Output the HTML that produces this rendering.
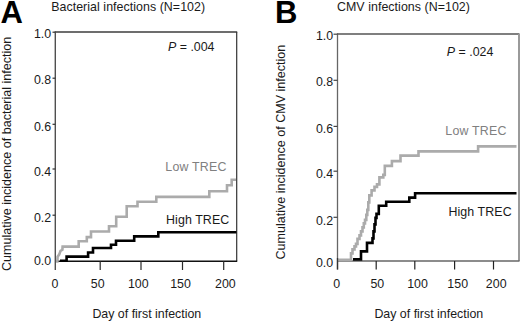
<!DOCTYPE html>
<html><head><meta charset="utf-8"><style>
html,body{margin:0;padding:0;background:#fff;width:520px;height:322px;overflow:hidden}
svg{display:block}
text{font-family:"Liberation Sans",sans-serif;}
</style></head><body>
<svg width="520" height="322" viewBox="0 0 520 322">
<rect width="520" height="322" fill="#fff"/>
<path d="M 54.8 32 H 237.2" fill="none" stroke="#3c3c3c" stroke-width="1.5"/>
<path d="M 236.7 32 V 261.3" fill="none" stroke="#333" stroke-width="1.2"/>
<path d="M 55.3 261.3 H 237.2" fill="none" stroke="#111" stroke-width="1.4"/>
<path d="M 55.3 31.5 V 270" fill="none" stroke="#505050" stroke-width="1.4"/>
<path d="M 52.5 32.2 H 55.3" stroke="#333" stroke-width="1.2"/>
<path d="M 52.5 78.2 H 55.3" stroke="#333" stroke-width="1.2"/>
<path d="M 52.5 124.3 H 55.3" stroke="#333" stroke-width="1.2"/>
<path d="M 52.5 169.0 H 55.3" stroke="#333" stroke-width="1.2"/>
<path d="M 52.5 215.2 H 55.3" stroke="#333" stroke-width="1.2"/>
<path d="M 100.2 261.3 V 270" stroke="#2a2a2a" stroke-width="1.2"/>
<path d="M 141 261.3 V 270" stroke="#2a2a2a" stroke-width="1.2"/>
<path d="M 182.5 261.3 V 270" stroke="#2a2a2a" stroke-width="1.2"/>
<path d="M 223.7 261.3 V 270" stroke="#2a2a2a" stroke-width="1.2"/>
<text x="51.2" y="37.5" font-size="12.4" text-anchor="end" fill="#1a1a1a">1.0</text>
<text x="51.2" y="83.9" font-size="12.4" text-anchor="end" fill="#1a1a1a">0.8</text>
<text x="51.2" y="130.5" font-size="12.4" text-anchor="end" fill="#1a1a1a">0.6</text>
<text x="51.2" y="175.8" font-size="12.4" text-anchor="end" fill="#1a1a1a">0.4</text>
<text x="51.2" y="222.1" font-size="12.4" text-anchor="end" fill="#1a1a1a">0.2</text>
<text x="51.2" y="264.7" font-size="12.4" text-anchor="end" fill="#1a1a1a">0.0</text>
<text transform="translate(10.9,153.85) rotate(-90)" font-size="12.55" text-anchor="middle" fill="#1a1a1a">Cumulative incidence of bacterial infection</text>
<text x="51.2" y="11.0" font-size="12.4" fill="#1a1a1a" letter-spacing="0.05">Bacterial infections (N=102)</text>
<text x="0.6" y="23.1" font-size="31" font-weight="bold" fill="#000">A</text>
<text x="55" y="288.2" font-size="12.4" text-anchor="middle" fill="#1a1a1a">0</text>
<text x="97.7" y="288.2" font-size="12.4" text-anchor="middle" fill="#1a1a1a">50</text>
<text x="138.3" y="288.2" font-size="12.4" text-anchor="middle" fill="#1a1a1a">100</text>
<text x="180.5" y="288.2" font-size="12.4" text-anchor="middle" fill="#1a1a1a">150</text>
<text x="225.4" y="288.2" font-size="12.4" text-anchor="middle" fill="#1a1a1a">200</text>
<text x="146.8" y="317.8" font-size="12.4" text-anchor="middle" fill="#1a1a1a">Day of first infection</text>
<path d="M 337.0 34 H 519.5" fill="none" stroke="#555" stroke-width="1.3"/>
<path d="M 519.0 34 V 261" fill="none" stroke="#9a9a9a" stroke-width="2.0"/>
<path d="M 337.5 261 H 519.5" fill="none" stroke="#666" stroke-width="1.3"/>
<path d="M 337.5 33.5 V 269.5" fill="none" stroke="#666" stroke-width="1.3"/>
<path d="M 333.5 34.2 H 337.5" stroke="#444" stroke-width="1.2"/>
<path d="M 333.5 80.3 H 337.5" stroke="#444" stroke-width="1.2"/>
<path d="M 333.5 126.4 H 337.5" stroke="#444" stroke-width="1.2"/>
<path d="M 333.5 171.2 H 337.5" stroke="#444" stroke-width="1.2"/>
<path d="M 333.5 217.3 H 337.5" stroke="#444" stroke-width="1.2"/>
<path d="M 376.2 261 V 269.5" stroke="#222" stroke-width="1.2"/>
<path d="M 414.8 261 V 269.5" stroke="#222" stroke-width="1.2"/>
<path d="M 454.6 261 V 269.5" stroke="#222" stroke-width="1.2"/>
<path d="M 493.5 261 V 269.5" stroke="#222" stroke-width="1.2"/>
<text x="333.2" y="39.9" font-size="12.4" text-anchor="end" fill="#1a1a1a">1.0</text>
<text x="333.2" y="86.1" font-size="12.4" text-anchor="end" fill="#1a1a1a">0.8</text>
<text x="333.2" y="132.7" font-size="12.4" text-anchor="end" fill="#1a1a1a">0.6</text>
<text x="333.2" y="178.3" font-size="12.4" text-anchor="end" fill="#1a1a1a">0.4</text>
<text x="333.2" y="224.6" font-size="12.4" text-anchor="end" fill="#1a1a1a">0.2</text>
<text x="333.2" y="266.9" font-size="12.4" text-anchor="end" fill="#1a1a1a">0.0</text>
<text transform="translate(284.6,152.1) rotate(-90)" font-size="12.55" text-anchor="middle" fill="#1a1a1a">Cumulative incidence of CMV infection</text>
<text x="337" y="11.0" font-size="12.4" fill="#1a1a1a" letter-spacing="0.05">CMV infections (N=102)</text>
<text x="275.0" y="23.1" font-size="31" font-weight="bold" fill="#000">B</text>
<text x="336.7" y="288.2" font-size="12.4" text-anchor="middle" fill="#1a1a1a">0</text>
<text x="377.3" y="288.2" font-size="12.4" text-anchor="middle" fill="#1a1a1a">50</text>
<text x="417.5" y="288.2" font-size="12.4" text-anchor="middle" fill="#1a1a1a">100</text>
<text x="457.7" y="288.2" font-size="12.4" text-anchor="middle" fill="#1a1a1a">150</text>
<text x="496.2" y="288.2" font-size="12.4" text-anchor="middle" fill="#1a1a1a">200</text>
<text x="428.8" y="317.8" font-size="12.4" text-anchor="middle" fill="#1a1a1a">Day of first infection</text>
<path d="M 57.3 262.8 L 57.6 256.8 L 59.3 254.3 L 60.5 250.8 L 62.4 249.8 L 62.6 246.6 H 78.7 V 241.3 H 86.8 V 237.1 H 91 V 231.5 H 109 V 226.3 H 116.2 V 216.8 H 126.7 V 206.3 H 137.5 V 201.8 H 156.3 V 196.9 H 209.3 V 191.3 H 227 V 185.3 H 231.7 V 179.8 H 236" fill="none" stroke="#ababab" stroke-width="2.6" stroke-linejoin="miter"/>
<path d="M 60 260.8 H 66.6 V 256.6 H 88.1 V 252.5 H 93 V 248 H 111 V 244.8 H 116 V 240.7 H 134.2 V 236.4 H 158.3 V 232.2 H 236.5" fill="none" stroke="#000" stroke-width="2.6" stroke-linejoin="miter"/>
<path d="M 337.5 259.9 H 351 V 253.4 H 352.5 V 249.4 H 354.5 V 246.4 H 356 V 243.9 H 357.5 V 238.9 H 359.5 V 235.4 H 361 V 231.4 H 362.5 V 227.4 H 363.8 V 223.4 H 365 V 219.9 H 366.3 V 214.9 H 367.3 V 209.9 H 368.3 V 202.4 H 369.3 V 195.4 H 371.6 V 190.4 H 374.5 V 186.9 H 377 V 184.4 H 379.4 V 177.4 H 383.3 V 174.9 H 384.8 V 165.9 H 391.9 V 161.1 H 400.5 V 155.6 H 418.5 V 151.4 H 478.1 V 146.4 H 516.5" fill="none" stroke="#ababab" stroke-width="2.6" stroke-linejoin="miter"/>
<path d="M 353 259.4 H 361 V 251.4 H 367 V 242.9 H 372.5 V 238.4 H 373.5 V 231.4 H 374.5 V 224.4 H 375.5 V 217.9 H 376.5 V 213.9 H 378.8 V 205.7 H 386.2 V 201.7 H 409.3 V 197.6 H 415.1 V 193.2 H 516.5" fill="none" stroke="#000" stroke-width="2.6" stroke-linejoin="miter"/>
<text x="168" y="50.8" font-size="12.4" fill="#1a1a1a"><tspan font-style="italic">P</tspan> = .004</text>
<text x="446.8" y="56" font-size="12.4" fill="#1a1a1a"><tspan font-style="italic">P</tspan> = .024</text>
<text x="165.3" y="171.1" font-size="12.4" fill="#808080" letter-spacing="0.2">Low TREC</text>
<text x="166" y="223.7" font-size="12.4" fill="#1a1a1a" letter-spacing="0.1">High TREC</text>
<text x="445.3" y="135.1" font-size="12.4" fill="#808080" letter-spacing="0.2">Low TREC</text>
<text x="448.4" y="216" font-size="12.4" fill="#1a1a1a" letter-spacing="0.1">High TREC</text>
<path d="M 337.5 258 V 269.5" stroke="#333" stroke-width="1.3"/>
</svg></body></html>
